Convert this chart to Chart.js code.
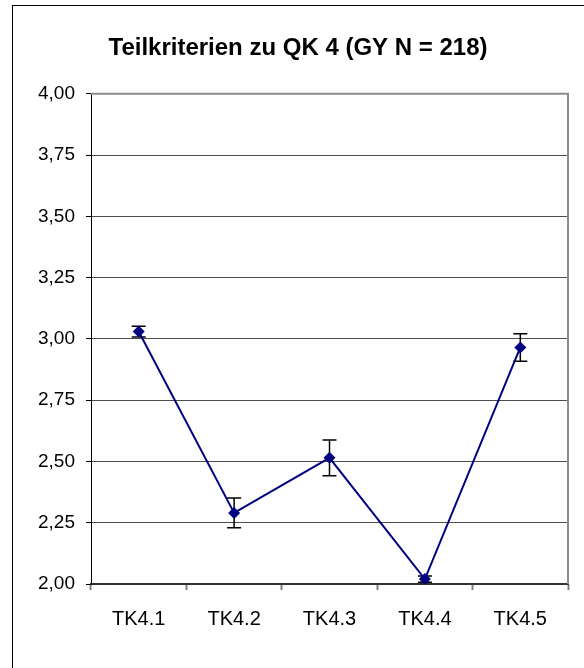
<!DOCTYPE html>
<html>
<head>
<meta charset="utf-8">
<script src="https://cdn.jsdelivr.net/npm/chart.js@4.4.1/dist/chart.umd.min.js"></script>
<style>
  html, body { margin: 0; padding: 0; background: #fff; }
</style>
</head>
<body>
<canvas id="chart" width="584" height="668"></canvas>
<script>
const categories = ["TK4.1", "TK4.2", "TK4.3", "TK4.4", "TK4.5"];
const means = [3.03, 2.29, 2.515, 2.02, 2.965];
const errors = [0.022, 0.061, 0.073, 0.013, 0.056];
const yTicks = [2.0, 2.25, 2.5, 2.75, 3.0, 3.25, 3.5, 3.75, 4.0];
const titleText = "Teilkriterien zu QK 4 (GY N = 218)";

const FONT = "'Liberation Sans', Arial, sans-serif";
const PAD_LEFT = 28;

// error bars drawn under the markers, from the y scale
const errorBars = {
  id: "errorBars",
  beforeDatasetsDraw(chart) {
    const { ctx, scales } = chart;
    const meta = chart.getDatasetMeta(0);
    ctx.save();
    ctx.strokeStyle = "#000";
    ctx.lineWidth = 1.5;
    meta.data.forEach((pt, i) => {
      const top = scales.y.getPixelForValue(means[i] + errors[i]);
      const bottom = scales.y.getPixelForValue(means[i] - errors[i]);
      ctx.beginPath();
      ctx.moveTo(pt.x, top);
      ctx.lineTo(pt.x, bottom);
      ctx.moveTo(pt.x - 7, top);
      ctx.lineTo(pt.x + 7, top);
      ctx.moveTo(pt.x - 7, bottom);
      ctx.lineTo(pt.x + 7, bottom);
      ctx.stroke();
    });
    ctx.restore();
  },
};

// plot box (top/right in grey) and the outer frame, which runs off the right/bottom edge
const frame = {
  id: "frame",
  afterDraw(chart) {
    const { ctx, chartArea: a } = chart;
    ctx.save();
    ctx.strokeStyle = "#8c8c8c";
    ctx.lineWidth = 2;
    ctx.beginPath();
    ctx.moveTo(a.left, a.top);
    ctx.lineTo(a.right, a.top);
    ctx.lineTo(a.right, a.bottom);
    ctx.stroke();
    ctx.strokeStyle = "#000";
    ctx.lineWidth = 1;
    ctx.strokeRect(12.5, 5.5, chart.width + 10, chart.height + 10);
    ctx.restore();
  },
};

new Chart(document.getElementById("chart"), {
  type: "line",
  data: {
    labels: categories,
    datasets: [{
      data: means,
      borderColor: "#000080",
      backgroundColor: "#000080",
      borderWidth: 2,
      tension: 0,
      pointStyle: "rectRot",
      pointRadius: 6,
      pointBorderWidth: 0,
      pointBackgroundColor: "#000080",
    }],
  },
  options: {
    responsive: false,
    animation: false,
    layout: { padding: { left: PAD_LEFT, right: 16, top: 0, bottom: 0 } },
    plugins: {
      legend: { display: false },
      tooltip: { enabled: false },
      title: {
        display: true,
        text: titleText,
        color: "#000",
        font: { family: FONT, size: 24, weight: "bold" },
        padding: { top: 34, bottom: 31 },
      },
    },
    scales: {
      x: {
        offset: true,
        grid: {
          offset: true,
          drawOnChartArea: false,
          drawTicks: true,
          tickLength: 6,
          tickColor: "#808080",
          tickWidth: 2,
        },
        border: { display: true, color: "#333", width: 2 },
        ticks: {
          color: "#000",
          padding: 17,
          font: { family: FONT, size: 20 },
        },
        afterFit(scale) { scale.height = 84; },
      },
      y: {
        min: 2,
        max: 4,
        afterBuildTicks(scale) {
          scale.ticks = yTicks.map((v) => ({ value: v }));
        },
        grid: {
          color: (c) => (c.tick && c.tick.value === 4 ? "#8c8c8c" : "#4d4d4d"),
          lineWidth: 1,
          drawTicks: true,
          tickLength: 5,
          tickColor: "#000",
        },
        border: { display: true, color: "#000", width: 1 },
        ticks: {
          color: "#000",
          padding: 11,
          font: { family: FONT, size: 19 },
          callback: (v) => Number(v).toFixed(2).replace(".", ","),
        },
        afterFit(scale) { scale.width = 91 - PAD_LEFT; },
      },
    },
  },
  plugins: [errorBars, frame],
});
</script>
</body>
</html>
